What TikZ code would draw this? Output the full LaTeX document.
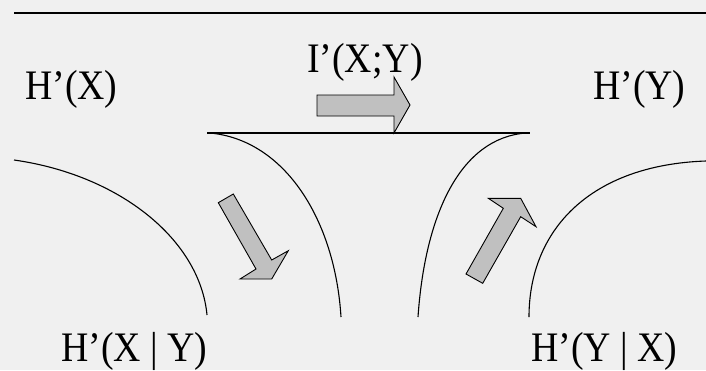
\documentclass[tikz,border=0pt]{standalone}
\usepackage{fontspec}
\setmainfont{Liberation Serif}
\newfontfamily\lblfont[FakeStretch=0.9]{Liberation Serif}
\definecolor{bg}{HTML}{F0F0F0}
\definecolor{arrowfill}{HTML}{C0C0C0}
\tikzset{
  lbl/.style={anchor=base west, inner sep=0pt, font=\lblfont\fontsize{42}{44}\selectfont},
  curve/.style={line width=1.1pt, black},
  blockarrow/.style={fill=arrowfill, draw=black, line width=0.9pt, line join=miter}
}
\begin{document}
\begin{tikzpicture}[x=1pt,y=-1pt]
\fill[bg] (0,0) rectangle (706,370);
\useasboundingbox (0,0) rectangle (706,370);
% top rule
\draw[line width=1.5pt] (14,13) -- (706,13);
% labels
\node[lbl] (hx) at (25,99) {H’(X)};
\node[lbl] (ixy) at (307,72) {I’(X;Y)};
\node[lbl] (hy) at (593,99) {H’(Y)};
\node[lbl] (hxy) at (61,361) {H’(X | Y)};
\node[lbl] (hyx) at (531,361) {H’(Y | X)};
% horizontal line under arrow
\draw[line width=1.3pt] (207,133) -- (530,133);
% curves
\draw[curve] (14,160) .. controls (120,175) and (200,240) .. (207,315);
\draw[curve] (210,133) .. controls (285,140) and (335,220) .. (341,317);
\draw[curve] (526,133) .. controls (460,138) and (425,215) .. (418,317);
\draw[curve] (529,317) .. controls (529,230) and (590,165) .. (706,161);
% block arrows
\draw[blockarrow] (317,95) -- (394,95) -- (394,77) -- (410,105) -- (394,133) -- (394,116) -- (317,116) -- cycle;
\draw[blockarrow] (218.3,202.7) -- (233.3,194) -- (271.7,260) -- (288.3,250.7) -- (271.7,279) -- (240,279) -- (256,269) -- cycle;
\draw[blockarrow] (466,274) -- (482.7,283.3) -- (520.7,216.7) -- (536,226.7) -- (520.7,198.3) -- (488.3,198.3) -- (503.3,208.3) -- cycle;
\end{tikzpicture}
\end{document}
